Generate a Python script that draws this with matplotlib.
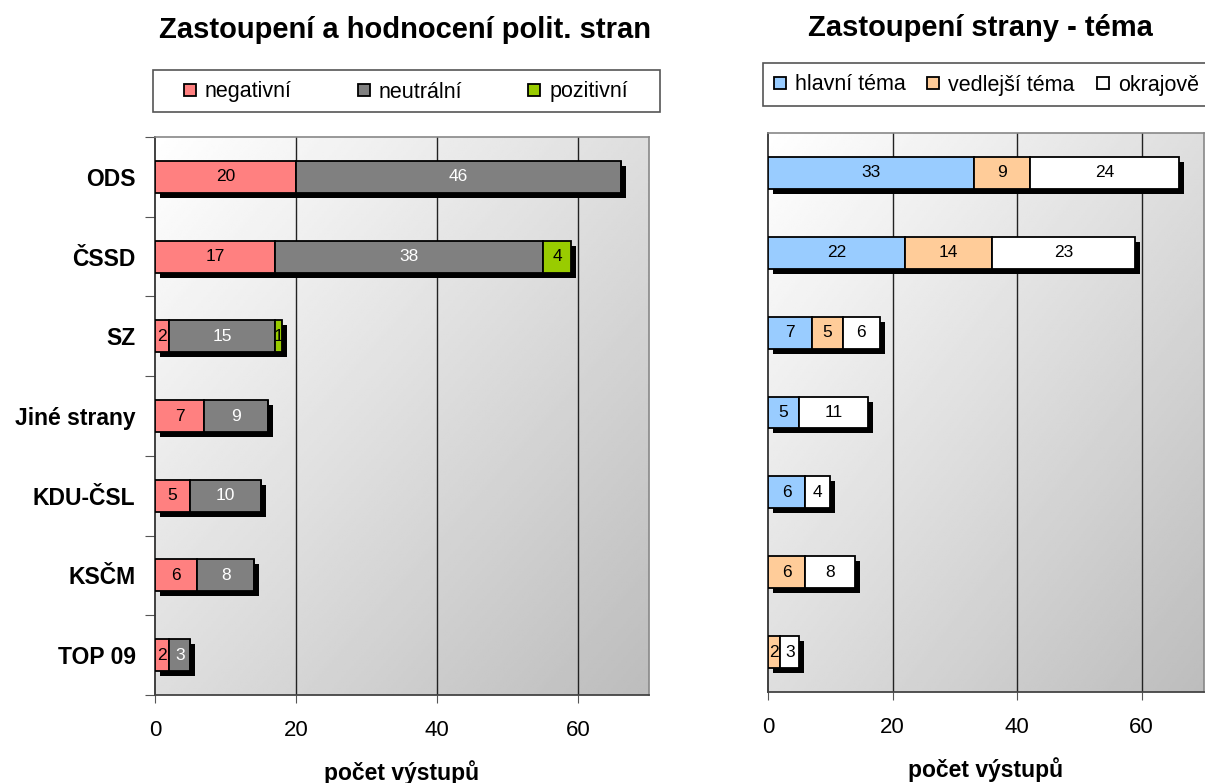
import numpy as np
import matplotlib
matplotlib.use("Agg")
import matplotlib.pyplot as plt
from matplotlib.lines import Line2D
from matplotlib.patches import Rectangle
from matplotlib.transforms import offset_copy

plt.rcParams['font.family'] = ['Liberation Sans', 'DejaVu Sans']

# ---- data ----
parties = ['ODS', 'ČSSD', 'SZ', 'Jiné strany', 'KDU-ČSL', 'KSČM', 'TOP 09']

eval_labels = ['negativní', 'neutrální', 'pozitivní']
negativni = [20, 17, 2, 7, 5, 6, 2]
neutralni = [46, 38, 15, 9, 10, 8, 3]
pozitivni = [0, 4, 1, 0, 0, 0, 0]

topic_labels = ['hlavní téma', 'vedlejší téma', 'okrajově']
hlavni = [33, 22, 7, 5, 6, 0, 0]
vedlejsi = [9, 14, 5, 0, 0, 6, 2]
okrajove = [24, 23, 6, 11, 4, 8, 3]

eval_colors = ['#FF8080', '#808080', '#99CC00']
topic_colors = ['#99CCFF', '#FFCC99', '#FFFFFF']
eval_text = ['black', 'white', 'black']
topic_text = ['black', 'black', 'black']

W, H = 1205, 783
fig = plt.figure(figsize=(W / 100, H / 100), dpi=100)
ax1 = fig.add_axes([155/W, 1-695/H, 494/W, 558/H])
ax2 = fig.add_axes([768/W, 1-692/H, 436/W, 559/H])

ypos = np.arange(len(parties))[::-1]
bar_h = 0.4


def gradient(ax):
    # white top-left -> light grey bottom-right
    g = np.linspace(0, 1, 200)
    xx, yy = np.meshgrid(g, g)
    z = 1 - 0.26 * (xx + yy) / 2
    ax.imshow(z, extent=[0, 1, 0, 1], transform=ax.transAxes, cmap='gray',
              vmin=0, vmax=1, aspect='auto', zorder=0, origin='upper')


def stacked(ax, series, colors, txtcols):
    totals = np.sum(series, axis=0)
    shadow_tr = offset_copy(ax.transData, fig=fig, x=5, y=-5, units='dots')
    ax.barh(ypos, totals, height=bar_h, color='black', transform=shadow_tr, zorder=2)
    left = np.zeros(len(ypos))
    for vals, col, tc in zip(series, colors, txtcols):
        vals = np.array(vals)
        ax.barh(ypos, vals, left=left, height=bar_h, color=col,
                edgecolor='black', linewidth=1.3, zorder=3)
        for y, l, v in zip(ypos, left, vals):
            if v > 0:
                ax.text(l + v / 2, y, str(v), ha='center', va='center',
                        fontsize=12.5, color=tc, zorder=4)
        left += vals


for ax in (ax1, ax2):
    gradient(ax)
    ax.set_xlim(0, 70)
    ax.set_ylim(-0.5, len(parties) - 0.5)
    ax.set_xticks([0, 20, 40, 60])
    ax.tick_params(axis='x', labelsize=16, direction='out', length=6,
                   color='#555555', pad=12)
    for x in (20, 40, 60):
        ax.axvline(x, color='#222222', lw=1, zorder=1)
    for s in ('top', 'right'):
        ax.spines[s].set_color('#888888')
        ax.spines[s].set_linewidth(1.2)
    ax.spines['left'].set_color('#333333')
    ax.spines['bottom'].set_color('#444444')
    ax.spines['left'].set_linewidth(1.3)
    ax.spines['bottom'].set_linewidth(1.3)
    ax.set_xlabel('počet výstupů', fontsize=16.5, fontweight='bold', labelpad=14)

stacked(ax1, [negativni, neutralni, pozitivni], eval_colors, eval_text)
stacked(ax2, [hlavni, vedlejsi, okrajove], topic_colors, topic_text)

# left chart category labels and boundary ticks
ax1.set_yticks(np.arange(len(parties) + 1) - 0.5)
ax1.set_yticklabels([])
ax1.tick_params(axis='y', direction='out', length=7, color='#555555')
ax1.set_yticks(ypos, minor=True)
ax1.set_yticklabels(parties, minor=True, fontsize=16.5, fontweight='bold')
ax1.tick_params(axis='y', which='minor', length=0, pad=14)

ax2.set_yticks([])

fig.text(405/W, 1 - 30/H, 'Zastoupení a hodnocení polit. stran', fontsize=21,
         fontweight='bold', ha='center', va='center')
fig.text(980/W, 1 - 28/H, 'Zastoupení strany - téma', fontsize=21,
         fontweight='bold', ha='center', va='center')


def handles(colors):
    return [Line2D([], [], marker='s', ls='none', markersize=8.5,
                   markerfacecolor=c, markeredgecolor='black', markeredgewidth=1.3)
            for c in colors]


# legend boxes
fig.patches.append(Rectangle((153/W, 1-112/H), 507/W, 42/H, transform=fig.transFigure,
                             facecolor='white', edgecolor='#555555', lw=1.2))
fig.patches.append(Rectangle((763/W, 1-106/H), 460/W, 43/H, transform=fig.transFigure,
                             facecolor='white', edgecolor='#555555', lw=1.2))

fig.legend(handles(eval_colors), eval_labels, ncol=3, loc='center left',
           bbox_to_anchor=(181/W, 1-92/H), bbox_transform=fig.transFigure,
           fontsize=15.5, frameon=False, handletextpad=0.3, borderpad=0,
           borderaxespad=0, handlelength=0.8, columnspacing=2.95)

fig.legend(handles(topic_colors), topic_labels, ncol=3, loc='center left',
           bbox_to_anchor=(771/W, 1-85/H), bbox_transform=fig.transFigure,
           fontsize=15.5, frameon=False, handletextpad=0.3, borderpad=0,
           borderaxespad=0, handlelength=0.8, columnspacing=0.9)

fig.savefig('out.png', dpi=100)
